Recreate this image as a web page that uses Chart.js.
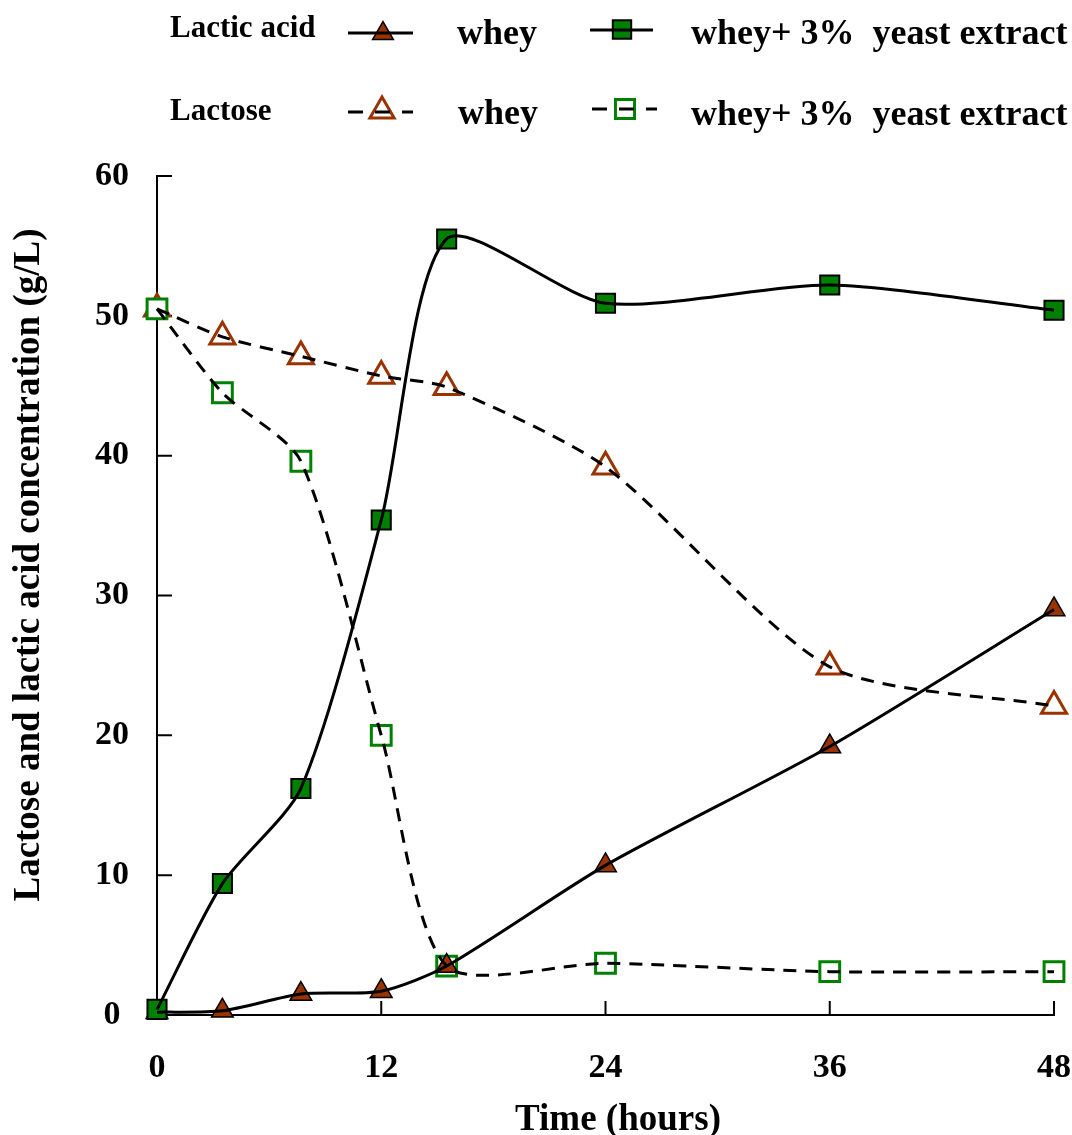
<!DOCTYPE html>
<html>
<head>
<meta charset="utf-8">
<script src="https://cdn.jsdelivr.net/npm/chart.js"></script>
<style>
  html, body { margin:0; padding:0; background:#fff; }
  #wrap { width:1072px; height:1135px; position:relative; }
</style>
</head>
<body>
<div id="wrap"><canvas id="c"></canvas></div>
<script>
/* DATA */
const hours = [0, 3.5, 7.7, 12, 15.5, 24, 36, 48];
const lacticWhey    = [0.2, 0.3, 1.5, 1.7, 3.5, 10.7, 19.2, 29.0];
const lacticWheyYE  = [0.4, 9.4, 16.2, 35.4, 55.5, 50.9, 52.2, 50.4];
const lactoseWhey   = [50.5, 48.5, 47.1, 45.7, 44.9, 39.2, 24.9, 22.1];
const lactoseWheyYE = [50.5, 44.5, 39.6, 20.0, 3.5, 3.7, 3.1, 3.1];
const xTicks = [0, 12, 24, 36, 48];
const yTicks = [0, 10, 20, 30, 40, 50, 60];
const legendRows = ["Lactic acid", "Lactose"];
const legendNames = ["whey", "whey+ 3%  yeast extract"];
const xTitle = "Time (hours)";
const yTitle = "Lactose and lactic acid concentration (g/L)";

const BROWN = "#993300", GREEN = "#008000";
const FONT = '"Liberation Serif", "Times New Roman", serif';
const DASH = [13, 9];

function pts(vals){ return hours.map((h, i) => ({ x: h, y: vals[i] })); }

/* marker layers (drawn under the curves) */
function markers(vals, style, r, fill, stroke, bw, order){
  return { data: pts(vals), showLine: false, pointStyle: style, pointRadius: r,
    pointBackgroundColor: fill, pointBorderColor: stroke, pointBorderWidth: bw,
    clip: false, order: order };
}
/* curve layers */
function curve(vals, dashed){
  return { data: pts(vals), pointRadius: 0, borderColor: "#000", borderWidth: 3,
    borderDash: dashed ? DASH : [], tension: 0.25, fill: false, clip: false, order: 0 };
}

/* ticks pointing inward + custom legend + axis titles */
const decor = {
  id: "decor",
  beforeDatasetsDraw(chart){
    const ctx = chart.ctx, xs = chart.scales.x, ys = chart.scales.y, a = chart.chartArea;
    ctx.save();
    ctx.strokeStyle = "#000"; ctx.lineWidth = 2;
    ctx.beginPath();
    yTicks.forEach(v => { const y = ys.getPixelForValue(v); ctx.moveTo(a.left, y); ctx.lineTo(a.left + 15, y); });
    xTicks.forEach(v => { if(v === 0) return; const x = xs.getPixelForValue(v); ctx.moveTo(x, a.bottom); ctx.lineTo(x, a.bottom - 14); });
    ctx.stroke();
    ctx.restore();
  },
  afterDraw(chart){
    const ctx = chart.ctx;
    ctx.save();
    ctx.fillStyle = "#000";
    ctx.textBaseline = "alphabetic";

    // row labels
    ctx.font = "bold 31px " + FONT;
    ctx.textAlign = "left";
    ctx.fillText(legendRows[0], 170, 37);
    ctx.fillText(legendRows[1], 170, 120);
    // series names
    ctx.font = "bold 36px " + FONT;
    ctx.fillText(legendNames[0], 457, 44);
    ctx.fillText(legendNames[1], 691, 44);
    ctx.fillText(legendNames[0], 458, 124);
    ctx.fillText(legendNames[1], 691, 125);

    // samples
    sample(ctx, 348, 413, 33, false, "tri", 383, 33.5, 12, BROWN, "#000", 1.5);
    sample(ctx, 590, 653, 30, false, "rect", 622, 29.5, 13, GREEN, "#000", 2);
    sample(ctx, 348, 413, 112, true, "tri", 382, 111, 14, "#fff", BROWN, 3);
    sample(ctx, 592, 657, 109, true, "rect", 625, 109, 13.5, "#fff", GREEN, 3);

    // axis titles
    ctx.font = "bold 37px " + FONT;
    ctx.textAlign = "center";
    ctx.fillText(xTitle, 618, 1130);
    ctx.translate(39, 565);
    ctx.rotate(-Math.PI / 2);
    ctx.fillText(yTitle, 0, 0);
    ctx.restore();
  }
};

function sample(ctx, x1, x2, y, dashed, shape, cx, cy, r, fill, stroke, bw){
  ctx.save();
  ctx.beginPath();
  if(shape === "tri"){
    ctx.moveTo(cx, cy - r);
    ctx.lineTo(cx + r * Math.sqrt(3) / 2, cy + r / 2);
    ctx.lineTo(cx - r * Math.sqrt(3) / 2, cy + r / 2);
    ctx.closePath();
  } else {
    const s = r * Math.SQRT1_2;
    ctx.rect(cx - s, cy - s, 2 * s, 2 * s);
  }
  ctx.fillStyle = fill; ctx.fill();
  ctx.strokeStyle = stroke; ctx.lineWidth = bw; ctx.stroke();
  ctx.beginPath();
  ctx.setLineDash(dashed ? [15, 12] : []);
  ctx.strokeStyle = "#000"; ctx.lineWidth = 3;
  ctx.moveTo(x1, y); ctx.lineTo(x2, y);
  ctx.stroke();
  ctx.restore();
}

const tickFont = { family: FONT, size: 34, weight: "bold" };

new Chart(document.getElementById("c"), {
  type: "line",
  data: {
    datasets: [
      markers(lacticWheyYE, "rect", 13.5, GREEN, "#000", 2, 1),
      markers(lacticWhey, "triangle", 12.5, BROWN, "#000", 1.5, 2),
      markers(lactoseWheyYE, "rect", 14, "#fff", GREEN, 3, 3),
      markers(lactoseWhey, "triangle", 14.5, "#fff", BROWN, 3, 4),
      curve(lacticWheyYE, false),
      curve(lacticWhey, false),
      curve(lactoseWheyYE, true),
      curve(lactoseWhey, true)
    ]
  },
  options: {
    responsive: true,
    maintainAspectRatio: false,
    animation: false,
    layout: { padding: { top: 176, right: 18, left: 0, bottom: 0 } },
    plugins: { legend: { display: false }, tooltip: { enabled: false } },
    scales: {
      x: {
        type: "linear", min: 0, max: 48,
        afterBuildTicks: s => { s.ticks = xTicks.map(v => ({ value: v })); },
        grid: { display: false, drawTicks: false },
        border: { display: true, color: "#000", width: 2 },
        ticks: { font: tickFont, color: "#000", padding: 33, maxRotation: 0 },
        afterFit: s => { s.height = 120; s.paddingLeft = 0; s.paddingRight = 0; }
      },
      y: {
        min: 0, max: 60,
        afterBuildTicks: s => { s.ticks = yTicks.map(v => ({ value: v })); },
        grid: { display: false, drawTicks: false },
        border: { display: true, color: "#000", width: 2 },
        ticks: { font: tickFont, color: "#000", padding: 28, crossAlign: "center" },
        afterFit: s => { s.width = 157; s.paddingTop = 0; s.paddingBottom = 0; }
      }
    }
  },
  plugins: [decor]
});
</script>
</body>
</html>
